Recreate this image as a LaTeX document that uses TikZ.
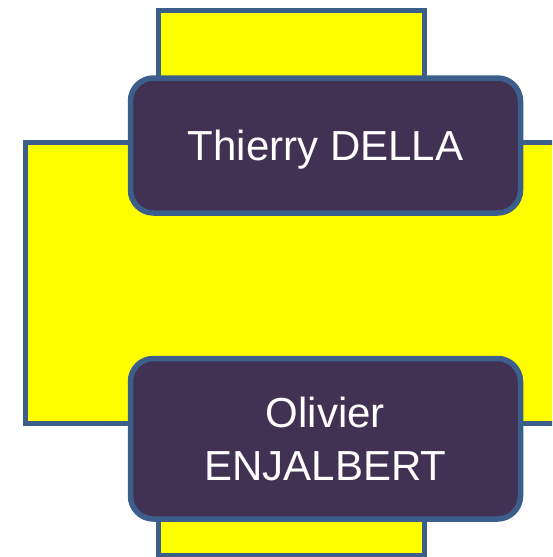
\documentclass[tikz,border=0pt]{standalone}
\usepackage{fontspec}
\setmainfont{Liberation Sans}
\definecolor{boxyellow}{RGB}{255,255,0}
\definecolor{edgeblue}{RGB}{59,94,138}
\definecolor{nodepurple}{RGB}{65,50,84}
\tikzset{
  backrect/.style={fill=boxyellow, draw=edgeblue, line width=5pt},
  namebox/.style={rectangle, rounded corners=23pt, fill=nodepurple, draw=edgeblue,
    line width=5.5pt, minimum width=390pt, text=white, align=center,
    font=\fontsize{42}{52.5}\selectfont, inner sep=0pt}
}
\begin{document}
\begin{tikzpicture}[x=1pt,y=-1pt]
\useasboundingbox (0,0) rectangle (552,557);
\clip (0,0) rectangle (552,557);
\draw[backrect] (25,142.5) rectangle (600,423);
\draw[backrect] (158.5,10) rectangle (424.5,110);
\draw[backrect] (158.5,490) rectangle (424.5,555);
\node[namebox, minimum height=135pt, text depth=0pt] (della) at (325.5,145.5) {Thierry DELLA};
\node[namebox, minimum height=160.5pt] (enjalbert) at (325.5,438.75) {Olivier\\ENJALBERT};
\end{tikzpicture}
\end{document}
